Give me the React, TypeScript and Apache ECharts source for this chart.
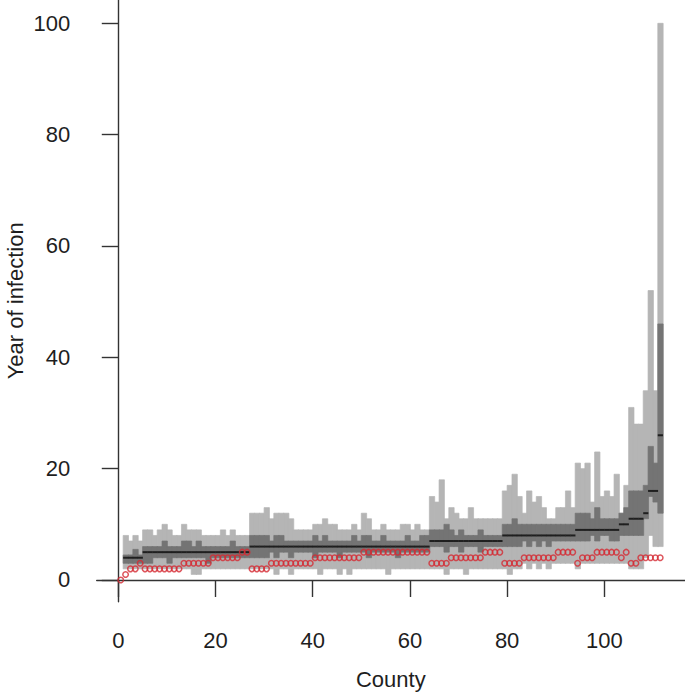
import React, { useEffect, useRef } from "react";
import * as echarts from "echarts";

// County index (1..112)
const counties: number[] = Array.from({ length: 112 }, (_, i) => i + 1);

// Observed year of infection (red circles)
const observed: number[] = [
  0, 1, 2, 2, 3,
  2, 2, 2, 2, 2, 2, 2, 2,
  3, 3, 3, 3, 3, 3,
  4, 4, 4, 4, 4, 4,
  5, 5,
  2, 2, 2, 2,
  3, 3, 3, 3, 3, 3, 3, 3, 3,
  4, 4, 4, 4, 4, 4, 4, 4, 4, 4,
  5, 5, 5, 5, 5, 5, 5, 5, 5, 5, 5, 5, 5, 5,
  3, 3, 3, 3,
  4, 4, 4, 4, 4, 4, 4,
  5, 5, 5, 5,
  3, 3, 3, 3,
  4, 4, 4, 4, 4, 4, 4,
  5, 5, 5, 5,
  3, 4, 4, 4, 5, 5, 5, 5, 5, 4, 5, 3, 3, 4, 4, 4, 4, 4,
];

// Predicted intervals (county 1 is the index county: no interval)
const lo95: (number | null)[] = [
  null,
  2, 2, 2, 2, 2, 2, 2, 2, 2, 2, 2, 2,
  2, 2, 1, 1, 2, 2, 2, 2, 2, 2, 2, 2, 2, 2,
  2, 2, 2, 2, 2, 1, 2, 2, 1, 2, 2, 2, 2, 2, 1, 2, 2, 2, 1, 2, 1, 2, 2, 2, 2, 2, 2, 2, 1, 2, 2, 2, 2, 2, 2, 2, 2,
  2, 2, 2, 1, 2, 2, 2, 1, 2, 2, 2, 2, 2, 2, 2,
  2, 1, 2, 2, 3, 2, 3, 2, 3, 2, 3, 3, 3, 3, 3,
  2, 3, 3, 3, 3, 3, 3, 3, 3, 3, 3, 2, 2, 2, 4, 8, 6, 6,
];

const lo50: (number | null)[] = [
  null,
  3, 3, 3, 3,
  3, 3, 4, 4, 4, 3, 4, 4, 4, 4, 4, 4, 4, 3, 4, 4, 4, 4, 4, 4, 4, 4,
  4, 4, 4, 4, 5, 4, 5, 5, 4, 5, 5, 5, 5, 4, 5, 5, 5, 5, 4, 5, 5, 5, 5, 5, 4, 5, 5, 5, 5, 5, 4, 5, 5, 5, 5, 5, 5,
  6, 6, 6, 5, 6, 6, 5, 6, 6, 6, 5, 6, 6, 6, 6,
  6, 6, 6, 6, 7, 6, 7, 6, 7, 6, 7, 7, 7, 7, 7,
  7, 7, 7, 8, 7, 8, 8, 7, 7, 8, 8, 8, 8, 8, 11, 15, 14, 12,
];

const median: (number | null)[] = [
  null,
  4, 4, 4, 4,
  5, 5, 5, 5, 5, 5, 5, 5, 5, 5, 5, 5, 5, 5, 5, 5, 5, 5, 5, 5, 5, 5,
  6, 6, 6, 6, 6, 6, 6, 6, 6, 6, 6, 6, 6, 6, 6, 6, 6, 6, 6, 6, 6, 6, 6, 6, 6, 6, 6, 6, 6, 6, 6, 6, 6, 6, 6, 6, 6,
  7, 7, 7, 7, 7, 7, 7, 7, 7, 7, 7, 7, 7, 7, 7,
  8, 8, 8, 8, 8, 8, 8, 8, 8, 8, 8, 8, 8, 8, 8,
  9, 9, 9, 9, 9, 9, 9, 9, 9, 10, 10, 11, 11, 11, 12, 16, 16, 26,
];

const hi50: (number | null)[] = [
  null,
  4.5, 4.5, 5.5, 4.5,
  6, 6, 6, 6, 7, 6, 6, 6, 7, 7, 6, 7, 6, 6, 6, 6, 6, 6, 7, 6, 6, 6,
  8, 8, 8, 8, 7, 8, 8, 7, 7, 7, 7, 7, 7, 8, 7, 8, 7, 7, 7, 7, 7, 8, 7, 8, 8, 7, 7, 8, 7, 7, 7, 7, 8, 7, 7, 8, 8,
  9, 9, 9, 10, 9, 8, 9, 8, 8, 8, 9, 8, 8, 8, 8,
  10, 10, 11, 10, 10, 10, 10, 10, 10, 10, 10, 10, 10, 10, 10,
  12, 12, 12, 11, 13, 11, 11, 11, 11, 12, 13, 16, 16, 16, 17, 24, 21, 46,
];

const hi95: (number | null)[] = [
  null,
  8, 7, 8, 7,
  9, 9, 8, 9, 10, 9, 8, 8, 10, 9, 9, 9, 8, 8, 8, 8, 9, 8, 9, 8, 8, 8,
  12, 12, 12, 13, 11, 12, 12, 12, 11, 9, 9, 9, 9, 10, 10, 11, 10, 10, 9, 9, 9, 10, 9, 12, 11, 9, 9, 10, 9, 9, 9, 10, 10, 9, 10, 9, 9,
  15, 14, 18, 11, 13, 12, 11, 11, 13, 11, 11, 11, 11, 11, 11,
  16, 17, 19, 15, 12, 16, 14, 15, 13, 11, 11, 13, 13, 16, 13,
  21, 20, 21, 14, 23, 15, 16, 15, 19, 12, 17, 31, 28, 28, 34, 52, 34, 100,
];

const xTicks: number[] = [0, 20, 40, 60, 80, 100];
const yTicks: number[] = [0, 20, 40, 60, 80, 100];

const FONT = "'Liberation Sans', Arial, Helvetica, sans-serif";
const TEXT = "#1e1e1e";
const AXIS = "#333";

export default function App() {
  const ref = useRef<HTMLDivElement>(null);

  useEffect(() => {
    if (!ref.current) return;
    const chart = echarts.init(ref.current, null, { renderer: "svg" });

    const band = (lo: (number | null)[], hi: (number | null)[]) =>
      counties
        .map((c, i) => (lo[i] == null || hi[i] == null ? null : [c - 0.5, lo[i], hi[i]]))
        .filter((d) => d !== null) as number[][];

    const medData = counties
      .map((c, i) => (median[i] == null ? null : [c - 0.5, median[i]]))
      .filter((d) => d !== null) as number[][];

    const obsData = counties.map((c, i) => [c - 0.5, observed[i]]);

    const rectRender = (color: string) => (params: any, api: any) => {
      const x = api.value(0);
      const lo = api.value(1);
      const hi = api.value(2);
      const p1 = api.coord([x - 0.5, hi]);
      const p2 = api.coord([x + 0.5, lo]);
      return {
        type: "rect",
        shape: { x: p1[0], y: p1[1], width: p2[0] - p1[0] + 0.5, height: p2[1] - p1[1] },
        style: { fill: color, stroke: color, lineWidth: 0.7 },
        silent: true,
      };
    };

    const lineRender = (params: any, api: any) => {
      const x = api.value(0);
      const m = api.value(1);
      const p1 = api.coord([x - 0.5, m]);
      const p2 = api.coord([x + 0.5, m]);
      return {
        type: "line",
        shape: { x1: p1[0], y1: p1[1], x2: p2[0] + 0.3, y2: p2[1] },
        style: { stroke: "#1f1f1f", lineWidth: 2 },
        silent: true,
      };
    };

    chart.setOption({
      animation: false,
      backgroundColor: "#ffffff",
      grid: { left: 96.7, right: 0, top: 0, bottom: 90.3, containLabel: false },
      xAxis: {
        type: "value",
        min: -4.44,
        max: 116.6,
        splitLine: { show: false },
        axisLine: { show: true, lineStyle: { color: AXIS, width: 1.4 } },
        axisTick: {
          show: true,
          length: 17,
          customValues: xTicks,
          lineStyle: { color: AXIS, width: 1.4 },
        },
        axisLabel: {
          show: true,
          customValues: xTicks,
          margin: 28,
          fontSize: 22,
          fontFamily: FONT,
          color: TEXT,
        },
      },
      yAxis: {
        type: "value",
        min: -3.9,
        max: 104.19,
        splitLine: { show: false },
        axisLine: { show: true, lineStyle: { color: AXIS, width: 1.4 } },
        axisTick: {
          show: true,
          length: 16.5,
          customValues: yTicks,
          lineStyle: { color: AXIS, width: 1.4 },
        },
        axisLabel: {
          show: true,
          customValues: yTicks,
          margin: 26.5,
          fontSize: 22,
          fontFamily: FONT,
          color: TEXT,
        },
      },
      graphic: [
        {
          type: "text",
          x: 390.8,
          y: 679.5,
          style: {
            text: "County",
            fontSize: 22,
            fontFamily: FONT,
            fill: TEXT,
            textAlign: "center",
            textVerticalAlign: "middle",
          },
        },
        {
          type: "text",
          x: 15,
          y: 300.8,
          rotation: Math.PI / 2,
          style: {
            text: "Year of infection",
            fontSize: 22,
            fontFamily: FONT,
            fill: TEXT,
            textAlign: "center",
            textVerticalAlign: "middle",
          },
        },
      ],
      series: [
        {
          type: "custom",
          name: "95%",
          renderItem: rectRender("#b5b5b5"),
          encode: { x: 0, y: [1, 2] },
          data: band(lo95, hi95),
          z: 1,
        },
        {
          type: "custom",
          name: "50%",
          renderItem: rectRender("#747474"),
          encode: { x: 0, y: [1, 2] },
          data: band(lo50, hi50),
          z: 2,
        },
        {
          type: "custom",
          name: "median",
          renderItem: lineRender,
          encode: { x: 0, y: 1 },
          data: medData,
          z: 3,
        },
        {
          type: "scatter",
          name: "observed",
          data: obsData,
          symbol: "circle",
          symbolSize: 5.5,
          itemStyle: { color: "rgba(255,255,255,0)", borderColor: "#d42a33", borderWidth: 1.5 },
          z: 4,
        },
      ],
    });

    return () => chart.dispose();
  }, []);

  return (
    <div
      ref={ref}
      style={{ position: "fixed", left: 0, top: 0, width: 685, height: 692, background: "#fff" }}
    />
  );
}
